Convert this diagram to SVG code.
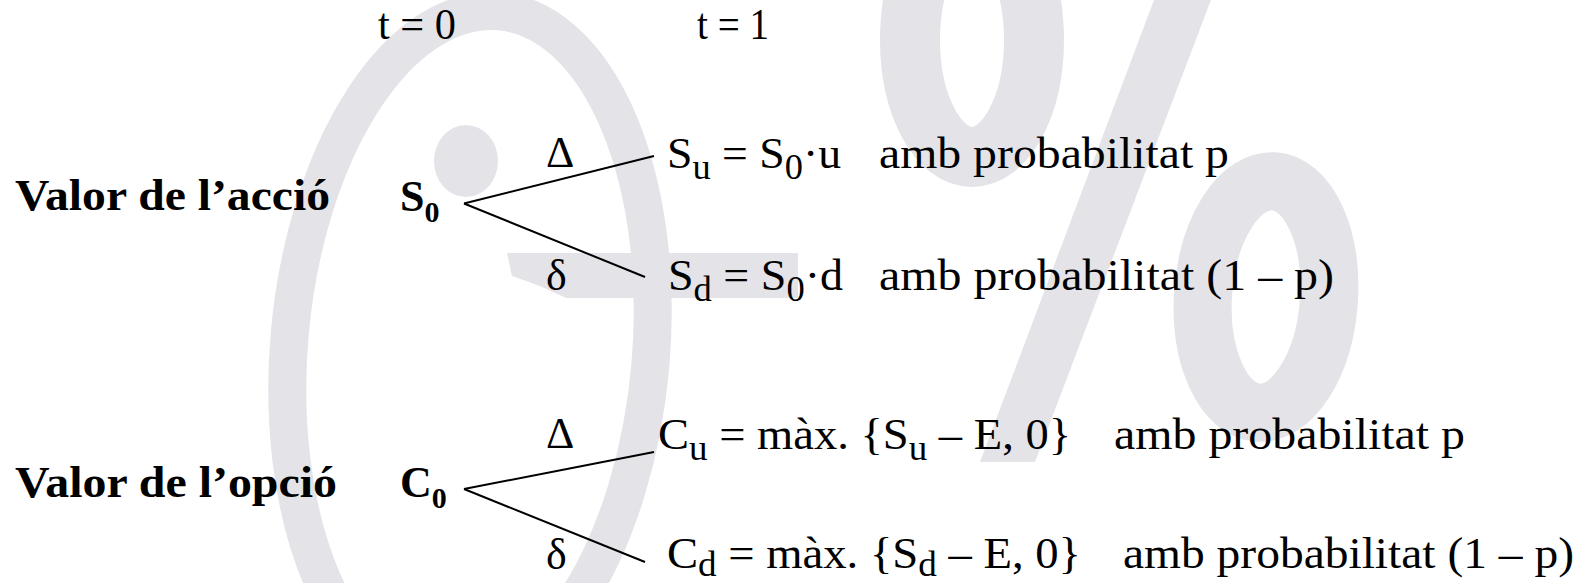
<svg xmlns="http://www.w3.org/2000/svg" width="1592" height="583" viewBox="0 0 1592 583">
<style>
  .wm { fill: none; stroke: #e4e3e8; }
  .wmf { fill: #e4e3e8; }
  .t { font-family: "Liberation Serif", "Times New Roman", serif; font-size: 44px; fill: #000; }
  .b { font-weight: bold; }
  .sub { font-size: 35px; }
  .bsub { font-size: 30px; }
  .edge { stroke: #000; stroke-width: 2; fill: none; }
</style>
<rect width="1592" height="583" fill="#fff"/>
<g id="watermark">
  <ellipse class="wm" cx="470" cy="350" rx="181" ry="340" stroke-width="38" transform="rotate(5 470 350)"/>
  <ellipse class="wmf" cx="466" cy="161" rx="32" ry="36"/>
  <polygon class="wmf" points="507,253 798,253 798,298 566,298 540,286 512,276"/>
  <ellipse class="wm" cx="972" cy="40" rx="62" ry="117" stroke-width="60"/>
  <polygon class="wmf" points="1154,0 1211,0 1035,462 980,462"/>
  <ellipse class="wm" cx="1266" cy="297" rx="63" ry="116" stroke-width="58" transform="rotate(4 1266 297)"/>
</g>
<g id="time-labels">
  <text class="t" x="378" y="39" textLength="78" lengthAdjust="spacingAndGlyphs">t = 0</text>
  <text class="t" x="697" y="39" textLength="72" lengthAdjust="spacingAndGlyphs">t = 1</text>
</g>
<g id="node-accio-label">
  <text class="t b" x="15" y="210" textLength="315" lengthAdjust="spacingAndGlyphs">Valor de l’acció</text>
</g>
<g id="node-S0">
  <text class="t b" x="400" y="211">S<tspan class="bsub" dy="11">0</tspan></text>
</g>
<g id="node-opcio-label">
  <text class="t b" x="15" y="497" textLength="322" lengthAdjust="spacingAndGlyphs">Valor de l’opció</text>
</g>
<g id="node-C0">
  <text class="t b" x="400" y="497">C<tspan class="bsub" dy="11">0</tspan></text>
</g>
<g id="node-Su">
  <text class="t" x="546" y="167">Δ</text>
  <text class="t" x="667" y="168" textLength="174" lengthAdjust="spacingAndGlyphs">S<tspan class="sub" dy="11">u</tspan><tspan dy="-11"> = S</tspan><tspan class="sub" dy="11">0</tspan><tspan dy="-11">·u</tspan></text>
  <text class="t" x="879" y="168" textLength="350" lengthAdjust="spacingAndGlyphs">amb probabilitat p</text>
</g>
<g id="node-Sd">
  <text class="t" x="546" y="290">δ</text>
  <text class="t" x="668" y="290" textLength="175" lengthAdjust="spacingAndGlyphs">S<tspan class="sub" dy="11">d</tspan><tspan dy="-11"> = S</tspan><tspan class="sub" dy="11">0</tspan><tspan dy="-11">·d</tspan></text>
  <text class="t" x="879" y="290" textLength="455" lengthAdjust="spacingAndGlyphs">amb probabilitat (1 – p)</text>
</g>
<g id="node-Cu">
  <text class="t" x="546" y="448">Δ</text>
  <text class="t" x="658" y="449" textLength="413" lengthAdjust="spacingAndGlyphs">C<tspan class="sub" dy="11">u</tspan><tspan dy="-11"> = màx. {S</tspan><tspan class="sub" dy="11">u</tspan><tspan dy="-11"> – E, 0}</tspan></text>
  <text class="t" x="1114" y="449" textLength="351" lengthAdjust="spacingAndGlyphs">amb probabilitat p</text>
</g>
<g id="node-Cd">
  <text class="t" x="546" y="569">δ</text>
  <text class="t" x="667" y="568" textLength="414" lengthAdjust="spacingAndGlyphs">C<tspan class="sub" dy="8">d</tspan><tspan dy="-8"> = màx. {S</tspan><tspan class="sub" dy="8">d</tspan><tspan dy="-8"> – E, 0}</tspan></text>
  <text class="t" x="1123" y="568" textLength="451" lengthAdjust="spacingAndGlyphs">amb probabilitat (1 – p)</text>
</g>
<g id="connectors">
  <line class="edge" x1="464" y1="203.5" x2="654" y2="156"/>
  <line class="edge" x1="464" y1="203.5" x2="645" y2="277"/>
  <line class="edge" x1="464" y1="489" x2="654" y2="452"/>
  <line class="edge" x1="464" y1="489" x2="645" y2="562"/>
</g>
</svg>
